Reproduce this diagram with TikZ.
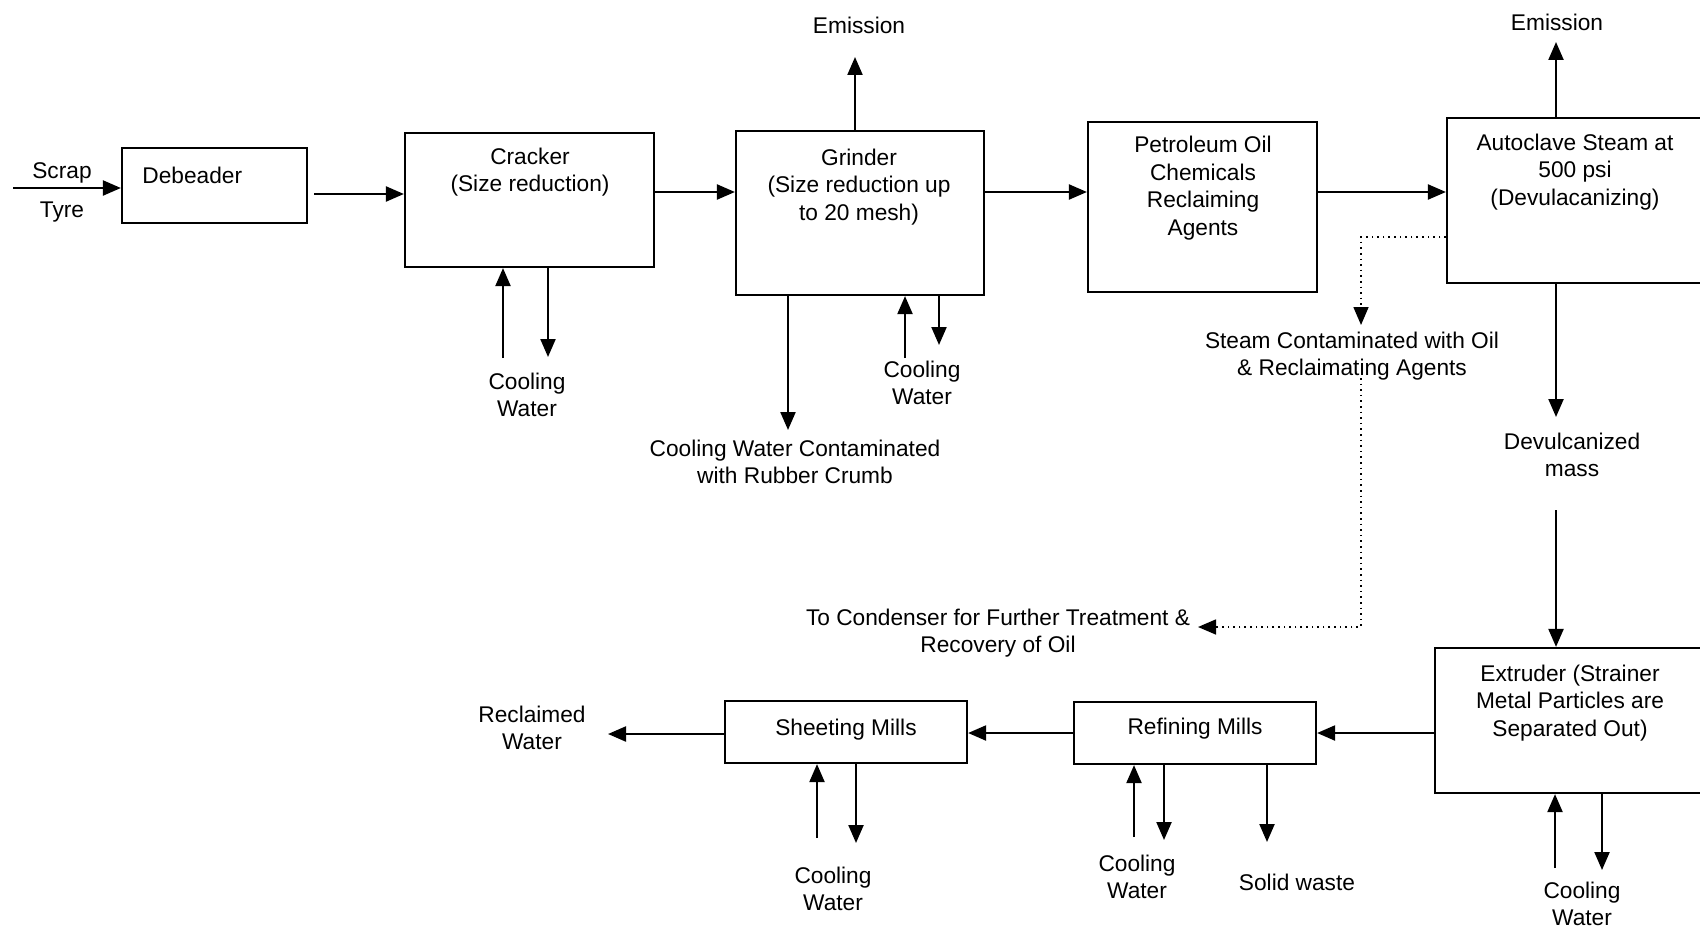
\documentclass[tikz,border=0pt]{standalone}
\usepackage{fontspec}
\setmainfont{Liberation Sans}
\usetikzlibrary{arrows.meta,calc,fit}

\tikzset{
  procbox/.style={draw, line width=1.1pt, inner sep=0pt},
  lbl/.style={font=\fontsize{11.35}{13.8}\selectfont, align=center, inner sep=0pt},
  flow/.style={line width=1.1pt, -{Triangle[length=9pt,width=7.5pt]}},
  steamflow/.style={dotted, line width=0.8pt, -{Triangle[length=9pt,width=7.5pt]}}
}

\begin{document}
\begin{tikzpicture}[x=0.5pt, y=-0.5pt]
\useasboundingbox (0,0) rectangle (1700,931);
\clip (0,0) rectangle (1700,931);

% ---- process boxes ----
\node[procbox, fit={(122,148) (307,223)}] (deb) {};
\node[procbox, fit={(405,133) (654,267)}] (crk) {};
\node[procbox, fit={(736,131) (984,295)}] (grd) {};
\node[procbox, fit={(1088,122) (1317,292)}] (pet) {};
\node[procbox, fit={(1447,118) (1712,283)}] (acl) {};
\node[procbox, fit={(1435,648) (1712,793)}] (ext) {};
\node[procbox, fit={(1074,702) (1316,764)}] (ref) {};
\node[procbox, fit={(725,701) (967,763)}] (sht) {};

% ---- box texts ----
\node[lbl, anchor=west] (debT) at (142,175) {Debeader};
\node[lbl] (crkT) at (530,172) {Cracker\\(Size reduction)};
\node[lbl] (grdT) at (859,187) {Grinder\\(Size reduction up\\to 20 mesh)};
\node[lbl] (petT) at (1203,188) {Petroleum Oil\\Chemicals\\Reclaiming\\Agents};
\node[lbl] (aclT) at (1575,172) {Autoclave Steam at\\500 psi\\(Devulacanizing)};
\node[lbl] (extT) at (1570,703) {Extruder (Strainer\\Metal Particles are\\Separated Out)};
\node[lbl] (refT) at (1195,729) {Refining Mills};
\node[lbl] (shtT) at (846,730) {Sheeting Mills};

% ---- free labels ----
\node[lbl] (scrap) at (62,173) {Scrap};
\node[lbl] (tyre) at (62,212) {Tyre};
\node[lbl] (em1) at (859,25) {Emission};
\node[lbl] (em2) at (1557,22) {Emission};
\node[lbl] (cwC) at (527,395) {Cooling\\Water};
\node[lbl] (cwG) at (922,383) {Cooling\\Water};
\node[lbl] (cwCont) at (795,462) {Cooling Water Contaminated\\with Rubber Crumb};
\node[lbl] (steam) at (1352,356) {Steam Contaminated with Oil\\\& Reclaimating Agents};
\node[lbl] (cond) at (998,633) {To Condenser for Further Treatment \&\\Recovery of Oil};
\node[lbl] (dev) at (1572,455) {Devulcanized\\mass};
\node[lbl] (cwE) at (1582,904) {Cooling\\Water};
\node[lbl] (cwR) at (1137,877) {Cooling\\Water};
\node[lbl] (solid) at (1297,882) {Solid waste};
\node[lbl] (cwS) at (833,889) {Cooling\\Water};
\node[lbl] (recl) at (532,728) {Reclaimed\\Water};

% ---- free ends of connectors ----
\coordinate (scrapIn) at (13,188);
\coordinate (e1) at (855,57);
\coordinate (e2) at (1556,42);
\coordinate (c1) at (503,358);
\coordinate (c2) at (548,357);
\coordinate (g1) at (788,430);
\coordinate (g2) at (905,358);
\coordinate (g3) at (939,345);
\coordinate (d1) at (1556,417);
\coordinate (d2) at (1556,510);
\coordinate (x1) at (1555,868);
\coordinate (x2) at (1602,870);
\coordinate (f1) at (1134,837);
\coordinate (f2) at (1164,840);
\coordinate (f3) at (1267,842);
\coordinate (s1) at (817,838);
\coordinate (s2) at (856,843);
\coordinate (rw) at (608,734);
\coordinate (k1) at (1361,325);
\coordinate (k2) at (1361,378);
\coordinate (k3) at (1198,627);

% ---- main line ----
\draw[flow] (scrapIn) -- (scrapIn -| deb.west);
\draw[flow] ($(deb.east)+(6,8.5)$) coordinate (m1) -- (m1 -| crk.west);
\draw[flow] ($(crk.east)+(0,-8)$) coordinate (m2) -- (m2 -| grd.west);
\draw[flow] ($(grd.east)+(0,-21)$) coordinate (m3) -- (m3 -| pet.west);
\draw[flow] ($(pet.east)+(0,-15)$) coordinate (m4) -- (m4 -| acl.west);

% ---- emissions ----
\draw[flow] (e1 |- grd.north) -- (e1);
\draw[flow] (e2 |- acl.north) -- (e2);

% ---- cooling water and by-products ----
\draw[flow] (c1) -- (c1 |- crk.south);
\draw[flow] (c2 |- crk.south) -- (c2);
\draw[flow] (g1 |- grd.south) -- (g1);
\draw[flow] (g2) -- (g2 |- grd.south);
\draw[flow] (g3 |- grd.south) -- (g3);

% ---- autoclave to extruder ----
\draw[flow] (d1 |- acl.south) -- (d1);
\draw[flow] (d2) -- (d2 |- ext.north);
\draw[flow] (x1) -- (x1 |- ext.south);
\draw[flow] (x2 |- ext.south) -- (x2);

% ---- lower line ----
\draw[flow] (ext.west |- ref.east) -- (ref.east);
\draw[flow] (ref.west) -- (ref.west -| sht.east);
\draw[flow] (sht.west |- rw) -- (rw);
\draw[flow] (f1) -- (f1 |- ref.south);
\draw[flow] (f2 |- ref.south) -- (f2);
\draw[flow] (f3 |- ref.south) -- (f3);
\draw[flow] (s1) -- (s1 |- sht.south);
\draw[flow] (s2 |- sht.south) -- (s2);

% ---- contaminated steam ----
\draw[steamflow] ($(acl.west)+(0,36.5)$) -| (k1);
\draw[steamflow] (k2) |- (k3);
\end{tikzpicture}
\end{document}
